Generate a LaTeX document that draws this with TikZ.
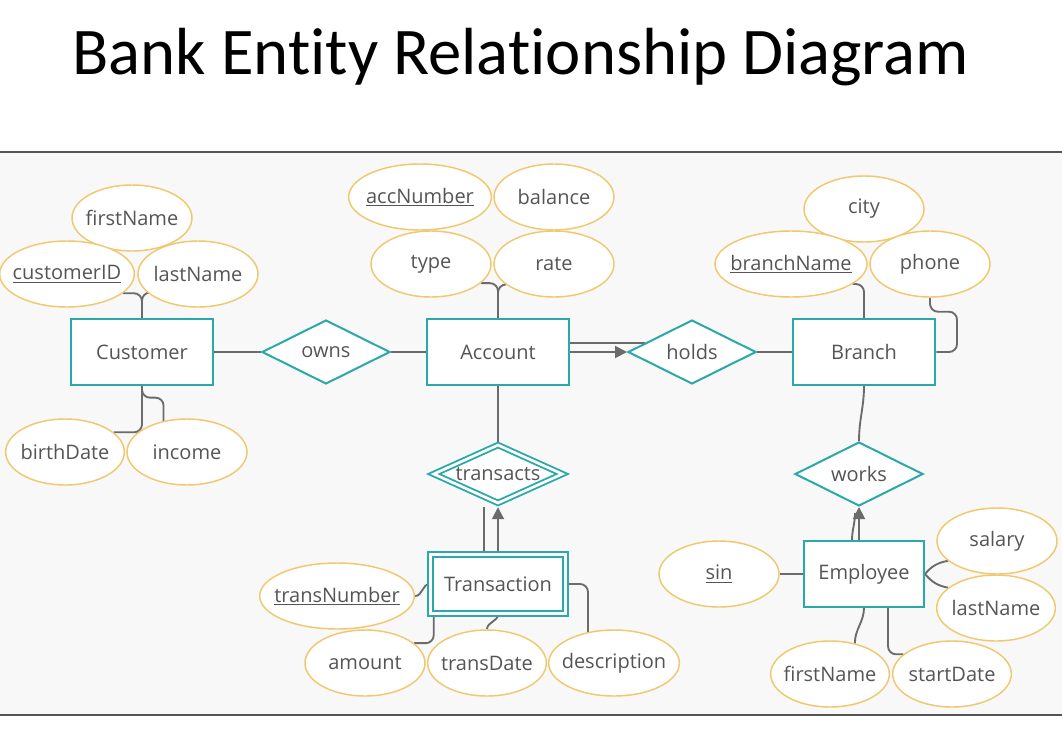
\documentclass[tikz,border=0pt]{standalone}
\usepackage{fontspec}
\setmainfont{Open Sans}
\newfontfamily\titlefont[Ligatures=NoCommon]{Carlito}
\usepackage{tikz}
\usetikzlibrary{arrows.meta,shapes.geometric,calc,backgrounds}
\definecolor{entteal}{HTML}{2BA8A8}
\definecolor{attrgold}{HTML}{F0C870}
\definecolor{linegray}{HTML}{6B6B6B}
\definecolor{txtgray}{HTML}{555555}
\definecolor{panelbg}{HTML}{F8F8F8}

\begin{document}
\begin{tikzpicture}[x=0.75pt, y=-0.75pt, every node/.style={font=\fontsize{15}{18}\selectfont, text=txtgray}, entity/.style={draw=entteal, line width=1.5pt, fill=white, minimum width=107pt, minimum height=49pt, inner sep=0pt}, weakent/.style={draw=entteal, line width=1.4pt, double=white, double distance=2pt, fill=white, minimum width=101pt, minimum height=44pt, inner sep=0pt}, rel/.style={draw=entteal, diamond, aspect=2.2, line width=1.5pt, fill=white, minimum width=96pt, minimum height=48pt, inner sep=0pt}, weakrel/.style={rel, line width=1.4pt, double=white, double distance=2pt, minimum width=97pt, minimum height=44pt}, attr/.style={draw=attrgold, ellipse, line width=1.1pt, fill=white, minimum width=90pt, minimum height=49.5pt, inner xsep=-20pt, inner ysep=0pt}, conn/.style={draw=linegray, line width=1.4pt, rounded corners=6pt}, arr/.style={conn, -{Triangle[length=9pt, width=9pt]}}]
\useasboundingbox (0,0) rectangle (1062,738);
\node[font=\titlefont\fontsize{50}{56}\selectfont, text=black, anchor=base] (title) at (521,75) {Bank Entity Relationship Diagram};
\node[entity] (cust) at (142,352) {Customer};
\node[entity] (acct) at (498,352) {Account};
\node[entity] (branch) at (864,352) {Branch};
\node[weakent] (trans) at (498,584) {Transaction};
\node[entity, minimum width=90pt] (emp) at (864,574) {Employee};
\node[rel] (owns) at (326,352) {owns};
\node[rel] (holds) at (692,352) {holds};
\node[weakrel] (transacts) at (498,474) {transacts};
\node[rel] (works) at (859,474) {works};
\node[attr] (cfirst) at (132,218) {firstName};
\node[attr, minimum width=101pt] (cid) at (67,274) {\underline{customerID}};
\node[attr] (clast) at (198,274) {lastName};
\node[attr, minimum width=89pt] (cbirth) at (65,452) {birthDate};
\node[attr] (cincome) at (187,452) {income};
\node[attr, minimum width=107pt] (accnum) at (420,197) {\underline{accNumber}};
\node[attr] (balance) at (554,197) {balance};
\node[attr] (atype) at (431,264) {type};
\node[attr] (rate) at (554,264) {rate};
\node[attr] (city) at (864,209) {city};
\node[attr, minimum width=114pt] (bname) at (791,264) {\underline{branchName}};
\node[attr] (phone) at (930,264) {phone};
\node[attr, minimum width=116pt] (tnum) at (337,596) {\underline{transNumber}};
\node[attr] (amount) at (365,663) {amount};
\node[attr, minimum width=89pt] (tdate) at (487,663) {transDate};
\node[attr, minimum width=98pt] (desc) at (614,663) {description};
\node[attr] (sin) at (719,574) {\underline{sin}};
\node[attr] (salary) at (997,541) {salary};
\node[attr, minimum width=89pt] (elast) at (996,608) {lastName};
\node[attr, minimum width=89pt] (efirst) at (830,674) {firstName};
\node[attr, minimum width=89pt] (start) at (952,674) {startDate};
\begin{scope}[on background layer]
\fill[panelbg] (0,152) rectangle (1062,715);
\draw[txtgray, line width=1.2pt] (0,152) -- (1062,152) (0,715) -- (1062,715);
\draw[conn] (cust) -- (owns); \draw[conn] (owns) -- (acct); \draw[arr] (acct.east) -- (holds.west); \draw[conn] (holds.169) -- (holds.169 -| acct.east); \draw[conn] (holds) -- (branch); \draw[conn] (acct) -- (transacts); \draw[arr] (trans.north) -- ([yshift=-2.2pt]transacts.south); \draw[conn] ($(trans.north)+(-14,0)$) -- ($(transacts.south)+(-14,3)$); \draw[conn] (branch.south) to[out=-90,in=90] (works.north); \draw[arr] (works.south |- emp.north) -- (works.south); \draw[conn] ($(works.south |- emp.north)+(-7,0)$) to[out=90,in=-90] ($(works.south)+(-4,6)$); \draw[conn] (sin) -- (emp);
\draw[conn] (cust.north) |- (cid.-19); \draw[conn] (cust.north) |- (clast.200); \draw[conn] (cust.south) |- (cbirth.22); \draw[conn] (cust.south) -- ++(0,12) -| (cincome.127); \draw[conn] (acct.north) |- (atype.-21); \draw[conn] (acct.north) |- (rate.203); \draw[conn] (branch.north) |- (bname.-18); \draw[conn] (branch.east) -| ($(phone.south)+(27,14)$) -| (phone.south);
\draw[conn] (tnum.east) to[out=0,in=180] (trans.west); \draw[conn] ($(trans.south west)+(4,0)$) |- (amount.22); \draw[conn] (trans.south) to[out=-90,in=90] (tdate.north); \draw[conn] (trans.east) -| (desc.130); \draw[conn] (emp.east) to[out=50,in=190] (salary.202); \draw[conn] (emp.east) to[out=-50,in=170] (elast.157); \draw[conn] (emp.south) to[out=-90,in=90] (efirst.51); \draw[conn] ($(emp.south)+(24,0)$) |- (start.158);
\end{scope}
\end{tikzpicture}
\end{document}
